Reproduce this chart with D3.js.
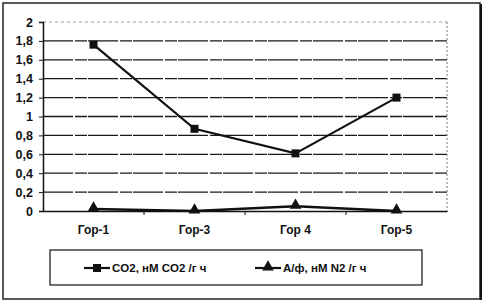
<!DOCTYPE html>
<html>
<head>
<meta charset="utf-8">
<script src="https://cdn.jsdelivr.net/npm/d3@7"></script>
<style>
  body { margin: 0; background: #fff; }
  svg text { font-family: "Liberation Sans", Arial, sans-serif; font-weight: bold; fill: #111; }
</style>
</head>
<body>
<svg id="chart" width="483" height="305"></svg>
<script>
// categories and values
const categories = ["Гор-1", "Гор-3", "Гор 4", "Гор-5"];
const co2Values = [1.76, 0.87, 0.61, 1.2];
const afValues = [0.02, 0.0, 0.05, 0.0];
const yTicks = [0, 0.2, 0.4, 0.6, 0.8, 1, 1.2, 1.4, 1.6, 1.8, 2];
const seriesNames = ["CO2, нМ CO2 /г ч", "А/ф, нМ N2 /г ч"];

const svg = d3.select("#chart");

// outer frame
svg.append("rect")
    .attr("x", 3).attr("y", 3)
    .attr("width", 477).attr("height", 296)
    .attr("fill", "none").attr("stroke", "#222").attr("stroke-width", 1.5);
svg.append("line")
    .attr("x1", 481).attr("x2", 481).attr("y1", 4).attr("y2", 300)
    .attr("stroke", "#111").attr("stroke-width", 2);

const margin = { top: 22, right: 36, bottom: 94, left: 43 };
const width = 483 - margin.left - margin.right;
const height = 305 - margin.top - margin.bottom;

const g = svg.append("g").attr("transform", `translate(${margin.left},${margin.top})`);

const x = d3.scaleBand().domain(categories).range([0, width]);
const y = d3.scaleLinear().domain([0, 2]).range([height, 0]);

// gridlines
g.append("g")
    .selectAll("line")
    .data(yTicks.filter(d => d > 0))
    .enter().append("line")
    .attr("x1", 0).attr("x2", width)
    .attr("y1", d => y(d)).attr("y2", d => y(d))
    .attr("stroke", d => d === 2 ? "#999" : "#1a1a1a")
    .attr("stroke-width", d => d === 2 ? 1 : 1.3)
    .attr("stroke-dasharray", d => d === 2 ? "3,3" : "30,2,12,1");

// right dotted edge of plot area
g.append("line")
    .attr("x1", width).attr("x2", width).attr("y1", 0).attr("y2", height)
    .attr("stroke", "#777").attr("stroke-dasharray", "2,2");

// y axis
const yAxis = g.append("g")
    .call(d3.axisLeft(y).tickValues(yTicks).tickSize(4).tickPadding(6)
        .tickFormat(d => String(d).replace(".", ",")));
yAxis.select(".domain").attr("stroke", "#111").attr("stroke-width", 1.5);
yAxis.selectAll(".tick line").attr("stroke", "#111");
yAxis.selectAll("text").style("font-size", "12.5px");

// x axis
const xAxis = g.append("g")
    .attr("transform", `translate(0,${height})`)
    .call(d3.axisBottom(x).tickSize(0).tickPadding(14));
xAxis.select(".domain").attr("stroke", "#111").attr("stroke-width", 1.5);
xAxis.selectAll("text").style("font-size", "12px");
// tick marks between categories
g.append("g")
    .selectAll("line")
    .data(categories.slice(1))
    .enter().append("line")
    .attr("x1", d => x(d)).attr("x2", d => x(d))
    .attr("y1", height).attr("y2", height + 4)
    .attr("stroke", "#111");

const line = d3.line()
    .x((d, i) => x(categories[i]) + x.bandwidth() / 2)
    .y(d => y(d));

// CO2 series
g.append("path")
    .datum(co2Values)
    .attr("d", line)
    .attr("fill", "none").attr("stroke", "#111").attr("stroke-width", 2.2);
g.selectAll(".sq")
    .data(co2Values)
    .enter().append("rect")
    .attr("class", "sq")
    .attr("x", (d, i) => x(categories[i]) + x.bandwidth() / 2 - 4)
    .attr("y", d => y(d) - 4)
    .attr("width", 8).attr("height", 8)
    .attr("fill", "#111");

// A/f series
g.append("path")
    .datum(afValues)
    .attr("d", line)
    .attr("fill", "none").attr("stroke", "#111").attr("stroke-width", 2.5);
const tri = d3.symbol().type(d3.symbolTriangle).size(60);
g.selectAll(".tri")
    .data(afValues)
    .enter().append("path")
    .attr("class", "tri")
    .attr("transform", (d, i) => `translate(${x(categories[i]) + x.bandwidth() / 2},${y(d) - 1})`)
    .attr("d", tri)
    .attr("fill", "#111");

// legend
const legend = svg.append("g");
legend.append("rect")
    .attr("x", 50).attr("y", 250)
    .attr("width", 372).attr("height", 35)
    .attr("fill", "none").attr("stroke", "#222").attr("stroke-width", 1.3);

const legendItems = [
    { name: seriesNames[0], x: 84, marker: "square" },
    { name: seriesNames[1], x: 255, marker: "triangle" }
];
legendItems.forEach(item => {
    legend.append("line")
        .attr("x1", item.x).attr("x2", item.x + 26)
        .attr("y1", 268).attr("y2", 268)
        .attr("stroke", "#111").attr("stroke-width", 2.2);
    if (item.marker === "square") {
        legend.append("rect")
            .attr("x", item.x + 9).attr("y", 264)
            .attr("width", 8).attr("height", 8).attr("fill", "#111");
    } else {
        legend.append("path")
            .attr("transform", `translate(${item.x + 13},267)`)
            .attr("d", tri).attr("fill", "#111");
    }
    legend.append("text")
        .attr("x", item.x + 28).attr("y", 272)
        .style("font-size", "11.5px")
        .text(item.name);
});
</script>
</body>
</html>
